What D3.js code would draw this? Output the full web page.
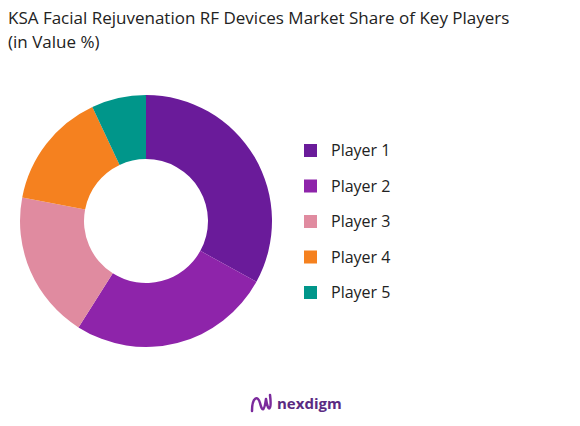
<!DOCTYPE html>
<html lang="en">
<head>
<meta charset="UTF-8">
<script src="https://d3js.org/d3.v7.min.js"></script>
<style>
  body { margin: 0; background: #fff; font-family: "Open Sans", sans-serif; }
</style>
</head>
<body>
<div id="chart"></div>
<script>
// data
const players = ["Player 1", "Player 2", "Player 3", "Player 4", "Player 5"];
const shares = [33, 26, 19, 15, 7];
const colors = ["#6a1b9a", "#8e24aa", "#e08ba0", "#f5811f", "#00968a"];

const svg = d3.select("#chart").append("svg")
    .attr("width", 580).attr("height", 426);

// title
svg.append("text").attr("x", 8).attr("y", 24)
    .style("font-size", "17px").attr("fill", "#222")
    .text("KSA Facial Rejuvenation RF Devices Market Share of Key Players");
svg.append("text").attr("x", 8).attr("y", 48)
    .style("font-size", "17px").attr("fill", "#222")
    .text("(in Value %)");

// donut
const pie = d3.pie().sort(null).value(d => d);
const arc = d3.arc().innerRadius(62).outerRadius(126);
const g = svg.append("g").attr("transform", "translate(146,221)");
g.selectAll("path").data(pie(shares)).enter().append("path")
    .attr("d", arc)
    .attr("fill", (d, i) => colors[i]);

// legend
const y = d3.scalePoint().domain(players).range([150, 292]);
const legend = svg.append("g");
players.forEach((p, i) => {
    legend.append("rect")
        .attr("x", 304).attr("y", y(p) - 6)
        .attr("width", 13).attr("height", 13)
        .attr("fill", colors[i]);
    legend.append("text")
        .attr("x", 331).attr("y", y(p) + 6)
        .style("font-size", "16px").attr("fill", "#222")
        .text(p);
});

// logo
const logo = svg.append("g").attr("transform", "translate(250,393)");
logo.append("path")
    .attr("d", "M2,18 C2,4 8,2 10,10 C12,18 14,20 16,6 M16,6 C18,20 22,18 20,2")
    .attr("fill", "none").attr("stroke", "#7b2a9c").attr("stroke-width", 2.5)
    .attr("stroke-linecap", "round");
logo.append("text").attr("x", 27).attr("y", 16)
    .style("font-size", "15px").style("font-weight", "bold")
    .attr("fill", "#5a2a82").text("nexdigm");
</script>
</body>
</html>
